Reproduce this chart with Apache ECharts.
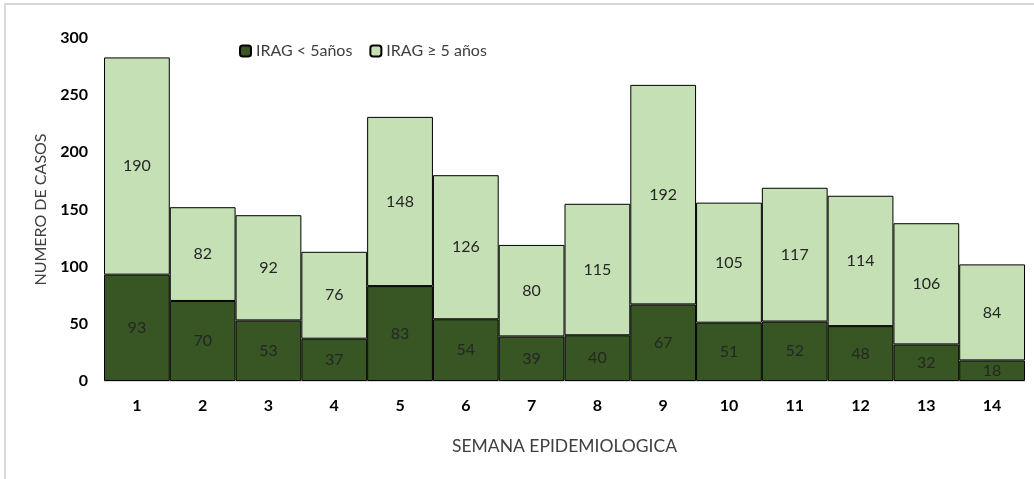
<!DOCTYPE html>
<html>
<head>
<meta charset="utf-8">
<script src="https://cdn.jsdelivr.net/npm/echarts@6/dist/echarts.min.js"></script>
<style>
  html, body { margin: 0; padding: 0; background: #fff; }
  #frame { position: absolute; left: 4px; top: 3px; width: 1030px; height: 476px;
           border-top: 2px solid #d9d9d9; border-left: 2px solid #d9d9d9; box-sizing: border-box; }
  #chart { position: absolute; left: 0; top: 0; width: 1034px; height: 479px; }
</style>
</head>
<body>
<div id="frame"></div>
<div id="chart"></div>
<script>
const semanas = ["1", "2", "3", "4", "5", "6", "7", "8", "9", "10", "11", "12", "13", "14"];
const menores5 = [93, 70, 53, 37, 83, 54, 39, 40, 67, 51, 52, 48, 32, 18];
const mayores5 = [190, 82, 92, 76, 148, 126, 80, 115, 192, 105, 117, 114, 106, 84];

let chartDom = document.getElementById("chart");
let myChart = echarts.init(chartDom);
let option;

const fuente = "Lato, 'Noto Sans', sans-serif";

option = {
  animation: false,
  textStyle: { fontFamily: fuente },
  legend: {
    top: 38,
    left: 234,
    itemWidth: 11,
    itemHeight: 11,
    itemGap: 17,
    textStyle: { fontFamily: fuente, fontSize: 16, color: "#404040" },
    data: ["IRAG < 5años", "IRAG ≥ 5 años"]
  },
  grid: {
    left: 104,
    right: 9,
    top: 38,
    bottom: 98
  },
  xAxis: {
    type: "category",
    data: semanas,
    name: "SEMANA EPIDEMIOLOGICA",
    nameLocation: "middle",
    nameGap: 56,
    nameTextStyle: { fontFamily: fuente, fontSize: 17.5, color: "#404040" },
    axisLine: { lineStyle: { color: "#d9d9d9" } },
    axisTick: { show: false },
    axisLabel: { margin: 17, fontSize: 16, fontWeight: "bold", color: "#000" }
  },
  yAxis: {
    type: "value",
    min: 0,
    max: 300,
    interval: 50,
    name: "NUMERO DE CASOS",
    nameLocation: "middle",
    nameGap: 47,
    nameTextStyle: { fontFamily: fuente, fontSize: 16, color: "#404040" },
    splitLine: { show: false },
    axisLine: { show: false },
    axisTick: { show: false },
    axisLabel: { margin: 16, fontSize: 16, fontWeight: "bold", color: "#000" }
  },
  series: [
    {
      name: "IRAG < 5años",
      type: "bar",
      stack: "casos",
      barCategoryGap: "0%",
      data: menores5,
      itemStyle: { color: "#375623", borderColor: "#000", borderWidth: 1 },
      label: { show: true, position: "inside", fontSize: 16, color: "#262626" }
    },
    {
      name: "IRAG ≥ 5 años",
      type: "bar",
      stack: "casos",
      barCategoryGap: "0%",
      data: mayores5,
      itemStyle: { color: "#c5e0b4", borderColor: "#000", borderWidth: 1 },
      label: { show: true, position: "inside", fontSize: 16, color: "#262626" }
    }
  ]
};

option && myChart.setOption(option);
</script>
</body>
</html>
